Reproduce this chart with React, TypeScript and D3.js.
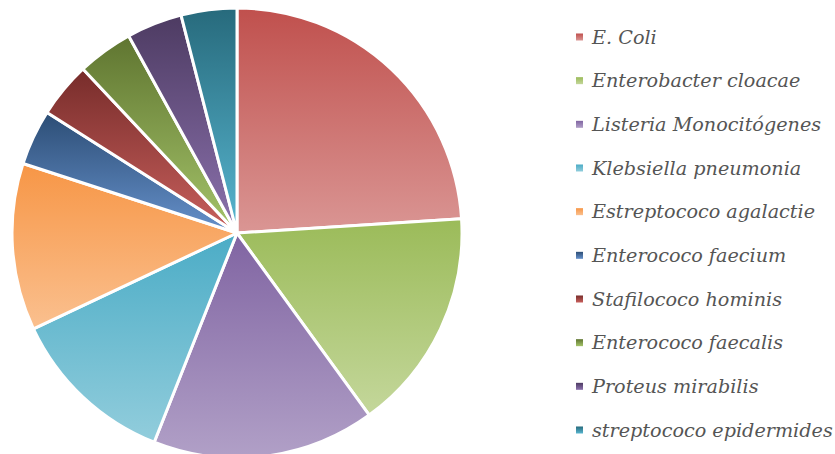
import React from "react";
import * as d3 from "d3";

const categories = [
  "E. Coli",
  "Enterobacter cloacae",
  "Listeria Monocitógenes",
  "Klebsiella pneumonia",
  "Estreptococo agalactie",
  "Enterococo faecium",
  "Stafilococo hominis",
  "Enterococo faecalis",
  "Proteus mirabilis",
  "streptococo epidermides",
];
const values = [6, 4, 4, 3, 3, 1, 1, 1, 1, 1];
const topColors = ["#C0504D", "#9BBB59", "#8064A2", "#4BACC6", "#F79646", "#2C4D75", "#772C2A", "#5F7530", "#4D3B62", "#276A7C"];
const bottomColors = ["#DA9694", "#C4D79B", "#B1A0C7", "#92CDDC", "#FAC08F", "#6691CB", "#C9605D", "#A5C46A", "#8C72AE", "#58B6D0"];

export default function App() {
  const W = 835, H = 454;
  const cx = 237, cy = 233, r = 225;
  const pie = d3.pie<number>().sort(null).value((d) => d)(values);
  const arc = d3.arc<d3.PieArcDatum<number>>().innerRadius(0).outerRadius(r);
  const legendY = d3.scaleLinear().domain([0, categories.length - 1]).range([37, 430]);
  return (
    <svg width={W} height={H} style={{ position: "absolute", left: 0, top: 0 }}>
      <defs>
        {categories.map((c, i) => (
          <linearGradient key={i} id={"g" + i} x1="0" y1="0" x2="0" y2="1">
            <stop offset="0" stopColor={topColors[i]} />
            <stop offset="1" stopColor={bottomColors[i]} />
          </linearGradient>
        ))}
      </defs>
      <g transform={`translate(${cx},${cy})`}>
        {pie.map((p, i) => (
          <path key={i} d={arc(p) || ""} fill={`url(#g${i})`} stroke="#fff" strokeWidth={3} strokeLinejoin="round" />
        ))}
      </g>
      <g>
        {categories.map((c, i) => (
          <g key={i} transform={`translate(576,${legendY(i)})`}>
            <rect x={0} y={-3.5} width={7} height={7} fill={`url(#g${i})`} />
            <text x={16} y={0} dy="0.35em" fontFamily="'DejaVu Serif', serif" fontStyle="italic" fontSize={19.2} fill="#555555">
              {c}
            </text>
          </g>
        ))}
      </g>
    </svg>
  );
}
